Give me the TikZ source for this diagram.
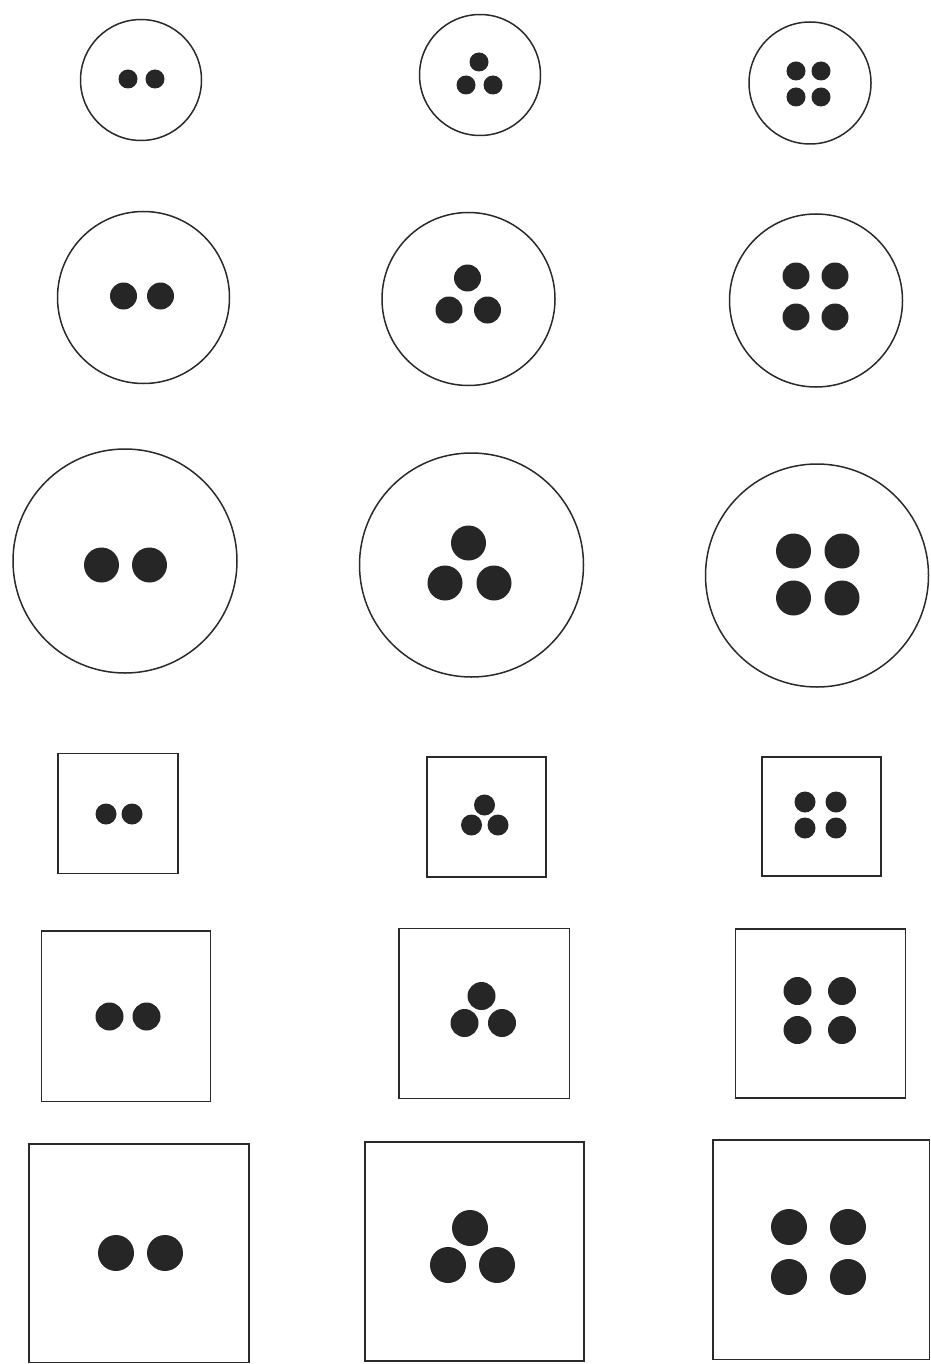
\documentclass[tikz,border=0pt]{standalone}
\definecolor{ink}{HTML}{2A2A2A}
\definecolor{dotc}{HTML}{262626}
\tikzset{
  ring/.style={circle, draw=ink, line width=1.5pt, inner sep=0pt, minimum size=#1},
  frame/.style={draw=ink, line width=1.7pt},
  dot/.style={circle, fill=dotc, inner sep=0pt, minimum size=#1},
}
\begin{document}
\begin{tikzpicture}[x=1pt, y=-1pt]
\useasboundingbox (0,0) rectangle (930,1364);
% ---- Row 1: small circles
\node[ring=121pt] (c11) at (141,80) {};
\node[dot=19pt] (c11a) at (128,79) {};
\node[dot=19pt] (c11b) at (155,79) {};
\node[ring=121pt] (c12) at (480,75) {};
\node[dot=19pt] (c12a) at (479,62) {};
\node[dot=19pt] (c12b) at (466,85) {};
\node[dot=19pt] (c12c) at (493,85) {};
\node[ring=122pt] (c13) at (810,83) {};
\node[dot=19pt] (c13a) at (796,71) {};
\node[dot=19pt] (c13b) at (821,71) {};
\node[dot=19pt] (c13c) at (796,97) {};
\node[dot=19pt] (c13d) at (821,97) {};
% ---- Row 2: medium circles
\node[ring=172pt] (c21) at (143.5,297.5) {};
\node[dot=27pt] (c21a) at (123.5,296) {};
\node[dot=27pt] (c21b) at (160.5,296) {};
\node[ring=173pt] (c22) at (468.5,299) {};
\node[dot=27pt] (c22a) at (467.5,278) {};
\node[dot=27pt] (c22b) at (449,310) {};
\node[dot=27pt] (c22c) at (487.5,310) {};
\node[ring=173pt] (c23) at (816,300.5) {};
\node[dot=27pt] (c23a) at (796,276) {};
\node[dot=27pt] (c23b) at (835,276) {};
\node[dot=27pt] (c23c) at (796,317) {};
\node[dot=27pt] (c23d) at (835,317) {};
% ---- Row 3: large circles
\node[ring=224pt] (c31) at (125,561) {};
\node[dot=35pt] (c31a) at (101.5,565) {};
\node[dot=35pt] (c31b) at (149.5,565) {};
\node[ring=224pt] (c32) at (471.5,565) {};
\node[dot=35pt] (c32a) at (468.5,543) {};
\node[dot=35pt] (c32b) at (445,583) {};
\node[dot=35pt] (c32c) at (494,583) {};
\node[ring=223pt] (c33) at (817,575.5) {};
\node[dot=35pt] (c33a) at (793.5,551) {};
\node[dot=35pt] (c33b) at (842,551) {};
\node[dot=35pt] (c33c) at (793.5,598) {};
\node[dot=35pt] (c33d) at (842,598) {};
% ---- Row 4: small squares
\draw[frame] (58,753.5) rectangle (178,873.5);
\node[dot=21pt] (s11a) at (106,814) {};
\node[dot=21pt] (s11b) at (132,814) {};
\draw[frame] (427,757) rectangle (546,877);
\node[dot=21pt] (s12a) at (484.5,805) {};
\node[dot=21pt] (s12b) at (471.5,825) {};
\node[dot=21pt] (s12c) at (498,825) {};
\draw[frame] (762,757) rectangle (881,876);
\node[dot=21pt] (s13a) at (805,802) {};
\node[dot=21pt] (s13b) at (836,802) {};
\node[dot=21pt] (s13c) at (805,828) {};
\node[dot=21pt] (s13d) at (836,828) {};
% ---- Row 5: medium squares
\draw[frame] (41.5,931) rectangle (210.5,1101.5);
\node[dot=28pt] (s21a) at (109.5,1016.5) {};
\node[dot=28pt] (s21b) at (146.5,1016.5) {};
\draw[frame] (399,928.5) rectangle (569.5,1098.5);
\node[dot=28pt] (s22a) at (481.5,996) {};
\node[dot=28pt] (s22b) at (464.5,1023) {};
\node[dot=28pt] (s22c) at (502,1023) {};
\draw[frame] (735.5,929) rectangle (905.5,1098);
\node[dot=28pt] (s23a) at (797.5,991) {};
\node[dot=28pt] (s23b) at (842,991) {};
\node[dot=28pt] (s23c) at (797.5,1030) {};
\node[dot=28pt] (s23d) at (842,1030) {};
% ---- Row 6: large squares
\draw[frame] (29,1144) rectangle (249,1362.5);
\node[dot=36pt] (s31a) at (116,1253) {};
\node[dot=36pt] (s31b) at (165,1253) {};
\draw[frame] (365,1142) rectangle (584,1361);
\node[dot=36pt] (s32a) at (470,1228) {};
\node[dot=36pt] (s32b) at (448,1265) {};
\node[dot=36pt] (s32c) at (497,1265) {};
\draw[frame] (713,1140) rectangle (929.5,1359.5);
\node[dot=36pt] (s33a) at (789,1227) {};
\node[dot=36pt] (s33b) at (848,1227) {};
\node[dot=36pt] (s33c) at (789,1277) {};
\node[dot=36pt] (s33d) at (848,1277) {};
\end{tikzpicture}
\end{document}
